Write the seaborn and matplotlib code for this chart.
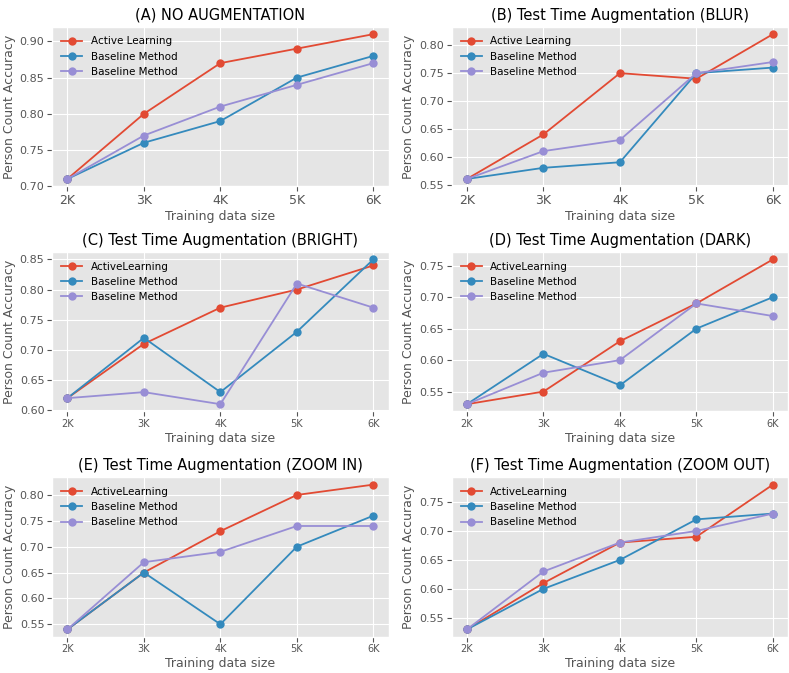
#!/usr/bin/env python3

import pandas as pd
import matplotlib
matplotlib.use('Agg')
import matplotlib.pyplot as plt
import seaborn as sns

# Data
sizes = ['2K', '3K', '4K', '5K', '6K']

titles = [
    '(A) NO AUGMENTATION',
    '(B) Test Time Augmentation (BLUR)',
    '(C) Test Time Augmentation (BRIGHT)',
    '(D) Test Time Augmentation (DARK)',
    '(E) Test Time Augmentation (ZOOM IN)',
    '(F) Test Time Augmentation (ZOOM OUT)',
]

active_labels = ['Active Learning', 'Active Learning', 'ActiveLearning',
                 'ActiveLearning', 'ActiveLearning', 'ActiveLearning']
baseline_label = 'Baseline Method'

active = [
    [0.71, 0.80, 0.87, 0.89, 0.91],
    [0.56, 0.64, 0.75, 0.74, 0.82],
    [0.62, 0.71, 0.77, 0.80, 0.84],
    [0.53, 0.55, 0.63, 0.69, 0.76],
    [0.54, 0.65, 0.73, 0.80, 0.82],
    [0.53, 0.61, 0.68, 0.69, 0.78],
]
baseline_1 = [
    [0.71, 0.76, 0.79, 0.85, 0.88],
    [0.56, 0.58, 0.59, 0.75, 0.76],
    [0.62, 0.72, 0.63, 0.73, 0.85],
    [0.53, 0.61, 0.56, 0.65, 0.70],
    [0.54, 0.65, 0.55, 0.70, 0.76],
    [0.53, 0.60, 0.65, 0.72, 0.73],
]
baseline_2 = [
    [0.71, 0.77, 0.81, 0.84, 0.87],
    [0.56, 0.61, 0.63, 0.75, 0.77],
    [0.62, 0.63, 0.61, 0.81, 0.77],
    [0.53, 0.58, 0.60, 0.69, 0.67],
    [0.54, 0.67, 0.69, 0.74, 0.74],
    [0.53, 0.63, 0.68, 0.70, 0.73],
]

colors = ['#E24A33', '#348ABD', '#988ED5']

plt.style.use('ggplot')
plt.rcParams['font.family'] = ['DejaVu Sans']

fig, axes = plt.subplots(3, 2, figsize=(7.89, 6.73), dpi=100)
fig.subplots_adjust(left=0.066, right=0.999, top=0.960, bottom=0.054,
                    wspace=0.187, hspace=0.414)

for i, ax in enumerate(axes.flat):
    series = [(active[i], active_labels[i]),
              (baseline_1[i], baseline_label),
              (baseline_2[i], baseline_label)]
    for (vals, label), color in zip(series, colors):
        df = pd.DataFrame({'size': sizes, 'acc': vals})
        sns.lineplot(data=df, x='size', y='acc', ax=ax, color=color,
                     marker='o', markersize=6, markeredgewidth=0,
                     linewidth=1.3, label=label, sort=False)
    ax.set_title(titles[i], fontsize=10.5, color='black', pad=5)
    ax.set_xlabel('Training data size', fontsize=9, color='#555555', labelpad=2)
    ax.set_ylabel('Person Count Accuracy', fontsize=9, color='#555555', labelpad=3)
    ax.yaxis.set_major_locator(matplotlib.ticker.MultipleLocator(0.05))
    ax.yaxis.set_major_formatter(matplotlib.ticker.FormatStrFormatter('%.2f'))
    ax.tick_params(axis='y', labelsize=8, pad=2)
    ax.tick_params(axis='x', labelsize=9 if i < 2 else 7, pad=2)
    ax.margins(x=0.05, y=0.05)
    ax.legend(loc='upper left', frameon=False, fontsize=7.5)

fig.savefig('out.png', dpi=100)
plt.close(fig)
